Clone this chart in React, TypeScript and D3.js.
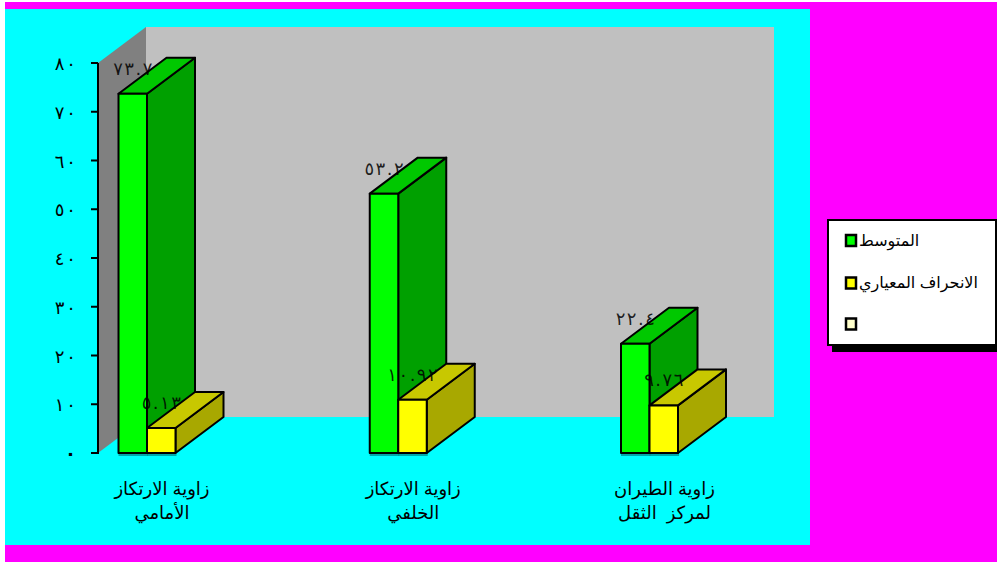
import React from "react";
import * as d3 from "d3";

// Series values and labels for the three jump-angle measures
const categories = ["front", "back", "flight"];
const categoryLines = [
  ["زاوية الارتكاز", "الأمامي"],
  ["زاوية الارتكاز", "الخلفي"],
  ["زاوية الطيران", "لمركز  الثقل"],
];
const meanValues = [73.7, 53.2, 22.4];
const sdValues = [5.13, 10.92, 9.76];
const legendLabels = ["المتوسط", "الانحراف المعياري", ""];
const axisTicks = [0, 10, 20, 30, 40, 50, 60, 70, 80];

const ARABIC_DIGITS = "٠١٢٣٤٥٦٧٨٩";
const toArabic = (v: number) =>
  String(v).replace(/\d/g, (d) => ARABIC_DIGITS[+d]);

// Per-glyph spacing list for the wide-set numerals
const spaced = (s: string, gap: number) =>
  Array.from(s)
    .map((_, i) => (i === 0 ? 0 : gap))
    .join(" ");

const W = 997;
const H = 562;
const DEPTH_X = 48;
const DEPTH_Y = -36;
const BAR_W = 28.5;
const FONT = "'DejaVu Sans', sans-serif";
const LABEL_FONT = "'Liberation Sans', Arial, 'DejaVu Sans', sans-serif";
const STROKE = "#000";

const y = d3.scaleLinear().domain([0, 80]).range([453, 63]);
const groupX = d3.scalePoint<string>().domain(categories).range([147, 649.5]);

const series = [
  { values: meanValues, offset: -BAR_W, front: "#00ff00", top: "#00c800", side: "#00a000" },
  { values: sdValues, offset: 0, front: "#ffff00", top: "#c8c800", side: "#a8a800" },
];

const poly = (pts: [number, number][]) => pts.map((p) => p.join(",")).join(" ");

function Bar3D({ x, value, s }: { x: number; value: number; s: (typeof series)[number] }) {
  const x1 = x + BAR_W;
  const yTop = y(value);
  const y0 = y(0);
  return (
    <g stroke={STROKE} strokeWidth={2} strokeLinejoin="round">
      <line x1={x} x2={x1 + 1} y1={y0 + 2} y2={y0 + 2} stroke="#008c8c" strokeWidth={1.5} />
      <polygon
        fill={s.side}
        points={poly([[x1, yTop], [x1 + DEPTH_X, yTop + DEPTH_Y], [x1 + DEPTH_X, y0 + DEPTH_Y], [x1, y0]])}
      />
      <polygon
        fill={s.top}
        points={poly([[x, yTop], [x + DEPTH_X, yTop + DEPTH_Y], [x1 + DEPTH_X, yTop + DEPTH_Y], [x1, yTop]])}
      />
      <rect x={x} y={yTop} width={BAR_W} height={y0 - yTop} fill={s.front} />
    </g>
  );
}

export default function App() {
  const y0 = y(0);
  const y80 = y(80);
  const axisX = 98;
  return (
    <svg
      width={W}
      height={H}
      viewBox={`0 0 ${W} ${H}`}
      style={{ position: "fixed", left: 0, top: 0, background: "#fff", display: "block" }}
    >
      {/* Page and chart backgrounds */}
      <rect x={5} y={2} width={992} height={560} fill="#ff00ff" />
      <rect x={5} y={9} width={805} height={536} fill="#00ffff" />

      {/* Back wall and left wall of the 3D plot box */}
      <rect x={axisX + DEPTH_X} y={y80 + DEPTH_Y} width={628} height={y0 - y80} fill="#c0c0c0" />
      <polygon
        fill="#808080"
        points={poly([
          [axisX, y80],
          [axisX + DEPTH_X, y80 + DEPTH_Y],
          [axisX + DEPTH_X, y0 + DEPTH_Y],
          [axisX, y0],
        ])}
      />

      {/* Value axis */}
      <line x1={axisX} x2={axisX} y1={y80} y2={y0 + 1} stroke="#000" strokeWidth={2} />
      {axisTicks.map((t) => (
        <g key={t}>
          <line x1={axisX - 7} x2={axisX} y1={y(t)} y2={y(t)} stroke="#000" strokeWidth={2} />
          <text
            x={76}
            y={y(t) + 7}
            textAnchor="end"
            fontFamily={FONT}
            fontSize={18}
            dx={spaced(toArabic(t), 2)}
            fontWeight={t === 0 ? 700 : 400}
            fill="#000"
          >
            {toArabic(t)}
          </text>
        </g>
      ))}

      {/* Paired 3D bars, drawn group by group */}
      {categories.map((c, i) =>
        series.map((s) => (
          <Bar3D key={c + s.front} x={groupX(c)! + s.offset} value={s.values[i]} s={s} />
        ))
      )}

      {/* Value labels above each bar */}
      {categories.map((c, i) =>
        series.map((s) => (
          <text
            key={c + s.top}
            x={groupX(c)! + s.offset + BAR_W / 2}
            y={y(s.values[i]) - 19}
            textAnchor="middle"
            fontFamily={FONT}
            fontSize={18}
            dx={spaced(toArabic(s.values[i]), 1.5)}
            fill="#000"
            fillOpacity={0.85}
          >
            {toArabic(s.values[i])}
          </text>
        ))
      )}

      {/* Category labels */}
      {categories.map((c, i) =>
        categoryLines[i].map((line, j) => (
          <text
            key={c + j}
            x={groupX(c)! + 15}
            y={495 + j * 24}
            textAnchor="middle"
            fontFamily={LABEL_FONT}
            fontSize={18}
            fill="#000"
            style={{ whiteSpace: "pre" }}
          >
            {line}
          </text>
        ))
      )}

      {/* Legend */}
      <rect x={832} y={225} width={165} height={127} fill="#000" />
      <rect x={828} y={220} width={168} height={125} fill="#fff" stroke="#000" strokeWidth={2} />
      {legendLabels.map((label, i) => {
        const fill = i === 0 ? "#00ff00" : i === 1 ? "#ffff00" : "#ffffcc";
        const ly = [240.5, 283, 324][i];
        return (
          <g key={i}>
            <rect x={846} y={ly - 5.5} width={10} height={11} fill={fill} stroke="#000" strokeWidth={2.5} />
            {label && (
              <text x={859} y={ly + 5} fontFamily={LABEL_FONT} fontSize={16} fill="#000">
                {label}
              </text>
            )}
          </g>
        );
      })}
    </svg>
  );
}
